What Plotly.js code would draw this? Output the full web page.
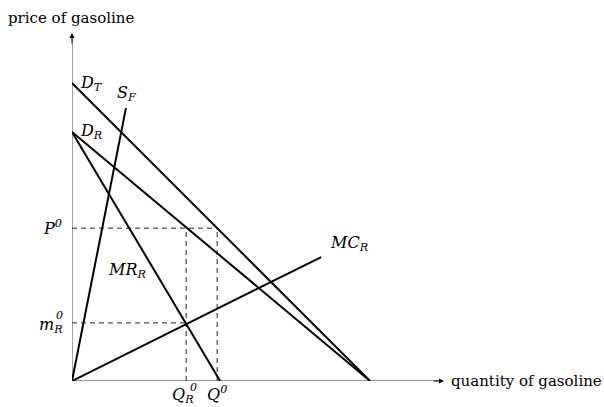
<!DOCTYPE html>
<html>
<head>
<meta charset="utf-8">
<script src="https://cdn.plot.ly/plotly-3.0.1.min.js"></script>
<style>
  html, body { margin: 0; padding: 0; background: #fff; }
  #graph { width: 604px; height: 407px; }
</style>
</head>
<body>
<div id="graph"></div>
<script>
// Curvas (cantidad, precio)
const dtQ = [0, 10],   dtP = [10, 0];     // D_T
const drQ = [0, 10],   drP = [8.36, 0];   // D_R
const mrQ = [0, 4.97], mrP = [8.36, 0];   // MR_R
const sfQ = [0, 1.81], sfP = [0, 9.16];   // S_F
const mcQ = [0, 8.36], mcP = [0, 4.16];   // MC_R

// Valores de equilibrio
const P0 = 5.13, mR0 = 1.95;
const QR0 = 3.83, Q0 = 4.87;

// Extensión de los ejes (hasta las flechas)
const xMax = 12.48, yMax = 11.68;

const serif = "DejaVu Serif";
const black = "#000";

function solid(q, p) {
    return { x: q, y: p, mode: "lines", type: "scatter", hoverinfo: "skip",
             line: { color: black, width: 2 } };
}
function dashed(q, p) {
    return { x: q, y: p, mode: "lines", type: "scatter", hoverinfo: "skip",
             line: { color: "#222", width: 1, dash: "5px,4px" } };
}

const data = [
    dashed([0, Q0], [P0, P0]),
    dashed([Q0, Q0], [0, P0]),
    dashed([0, QR0], [mR0, mR0]),
    dashed([QR0, QR0], [0, P0]),
    solid(dtQ, dtP),
    solid(drQ, drP),
    solid(mrQ, mrP),
    solid(sfQ, sfP),
    solid(mcQ, mcP)
];

// Etiquetas en coordenadas "paper" (las de datos fuera del rango no se dibujan)
function label(x, y, text, size, anchor) {
    return { x: x / xMax, y: y / yMax, xref: "paper", yref: "paper", text, showarrow: false,
             xanchor: anchor || "center", yanchor: "middle",
             font: { family: serif, size: size || 16, color: black } };
}

const annotations = [
    label(0.66, 9.97, "<i>D</i><sub><i>T</i></sub>"),
    label(1.83, 9.66, "<i>S</i><sub><i>F</i></sub>"),
    label(0.66, 8.36, "<i>D</i><sub><i>R</i></sub>"),
    label(1.85, 3.72, "<i>MR</i><sub><i>R</i></sub>"),
    label(9.3, 4.63, "<i>MC</i><sub><i>R</i></sub>"),
    label(-0.64, P0 + 0.03, "<i>P</i><sup><i>0</i></sup>"),
    label(-0.72, mR0 - 0.08, "<i>m</i><sub><i>R</i></sub>"),
    label(-0.42, mR0 + 0.25, "<i>0</i>", 11),
    label(QR0 - 0.1, -0.5, "<i>Q</i><sub><i>R</i></sub>"),
    label(QR0 + 0.24, -0.22, "<i>0</i>", 11),
    label(Q0, -0.42, "<i>Q</i><sup><i>0</i></sup>"),
    label(12.65, 0, "quantity of gasoline", 15, "left"),
    label(-0.03, 12.18, "price of gasoline", 15),
    // flechas de los ejes
    { x: xMax, y: 0, ax: xMax - 0.4, ay: 0, axref: "x", ayref: "y", xref: "x", yref: "y",
      text: "", showarrow: true, arrowhead: 2, arrowsize: 1, arrowwidth: 1, arrowcolor: black },
    { x: 0, y: yMax, ax: 0, ay: yMax - 0.4, axref: "x", ayref: "y", xref: "x", yref: "y",
      text: "", showarrow: true, arrowhead: 2, arrowsize: 1, arrowwidth: 1, arrowcolor: black }
];

const shapes = [
    { type: "line", xref: "x", yref: "y", x0: 0, y0: 0, x1: xMax - 0.1, y1: 0,
      line: { color: "#999", width: 2 }, layer: "below" },
    { type: "line", xref: "x", yref: "y", x0: 0, y0: 0, x1: 0, y1: yMax - 0.1,
      line: { color: "#444", width: 1 }, layer: "below" }
];

const hidden = { showgrid: false, zeroline: false, showline: false,
                 showticklabels: false, ticks: "", fixedrange: true };

const layout = {
    width: 604, height: 407,
    margin: { l: 72, r: 160, t: 33, b: 26 },
    paper_bgcolor: "#fff", plot_bgcolor: "#fff",
    showlegend: false,
    font: { family: serif },
    xaxis: Object.assign({ range: [0, xMax] }, hidden),
    yaxis: Object.assign({ range: [0, yMax] }, hidden),
    annotations, shapes
};

Plotly.newPlot("graph", data, layout, { displayModeBar: false, staticPlot: true });
</script>
</body>
</html>
